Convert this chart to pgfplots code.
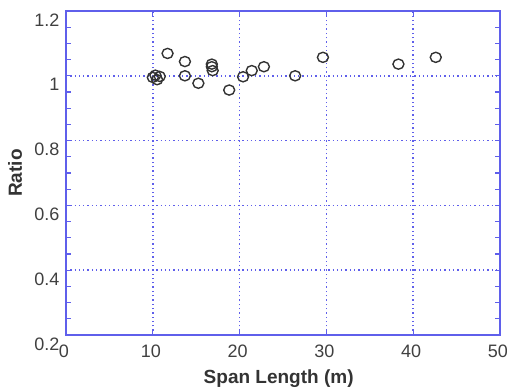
\documentclass[border=0pt]{standalone}
\usepackage{fontspec}
\setmainfont{Liberation Sans}
\usepackage{pgfplots}
\pgfplotsset{compat=1.18}
\definecolor{axblue}{RGB}{95,95,235}
\begin{document}
\begin{tikzpicture}
\useasboundingbox (-66pt,-54pt) rectangle (441pt,335pt);
\begin{axis}[
  scale only axis,
  width=434pt, height=324pt,
  xmin=0, xmax=50, ymin=0.2, ymax=1.2,
  xtick={0,10,...,50},
  ytick={0.2,0.4,0.6,0.8,1.0,1.2},
  yticklabels={0.2,0.4,0.6,0.8,1,1.2},
  minor y tick num=3,
  tick align=inside,
  major tick length=5pt, minor tick length=5pt,
  axis line style={axblue, line width=1.3pt},
  every tick/.style={axblue, line width=1.3pt},
  grid=major,
  major grid style={axblue, line width=1.6pt, dash pattern=on 1.3pt off 3pt},
  /pgf/number format/assume math mode=true,
  tick label style={font=\fontsize{18}{20}\selectfont, text=black!75},
  xticklabel style={anchor=center, yshift=-16pt, xshift=-2pt},
  yticklabel style={anchor=east, xshift=-3pt, yshift=-9pt},
  label style={font=\fontsize{19}{21}\selectfont\bfseries, text=black!80},
  xlabel={Span Length (m)},
  ylabel={Ratio},
  xlabel style={at={(axis description cs:0.49,-0.136)}, anchor=center},
  ylabel style={at={(axis description cs:-0.1175,0.5)}, anchor=center},
]
\addplot[only marks, mark=o, mark size=5.5pt, mark options={black!80, line width=1.4pt, yscale=0.92}] coordinates {
(10.0,0.995) (10.3,1.002) (10.5,0.988) (10.8,0.998)
(11.7,1.069) (13.7,1.044) (13.7,1.000) (15.25,0.977)
(16.8,1.028) (16.8,1.036) (16.9,1.016) (18.8,0.956)
(20.4,0.997) (21.4,1.016) (22.8,1.028) (26.4,1.000)
(29.6,1.057) (38.3,1.036) (42.6,1.057)
};
\end{axis}
\end{tikzpicture}
\end{document}
